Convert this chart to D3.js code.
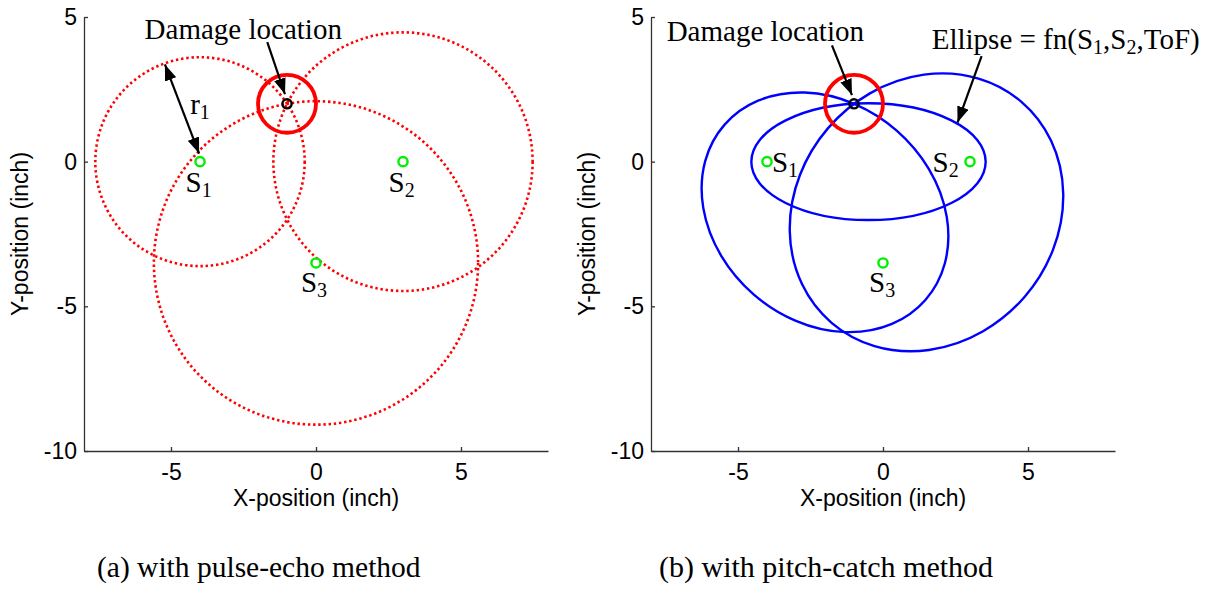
<!DOCTYPE html>
<html><head><meta charset="utf-8">
<script src="https://cdn.jsdelivr.net/npm/d3@7"></script>
<style>body{margin:0;background:#fff} svg{display:block}</style>
</head><body>
<svg id="chart" width="1220" height="590"></svg>
<script>
// ---- data ----
const sensorIds = ["1", "2", "3"];
const sensorX = [-4, 3, 0];
const sensorY = [0, 0, -3.5];
const damageX = -1;
const damageY = 2;
const echoRadius = [3.61, 4.47, 5.59];      // pulse-echo circles (inch)
const pairFirst = [0, 0, 1];                 // pitch-catch sensor pairs
const pairSecond = [1, 2, 2];
const pathLength = [8.08, 9.20, 10.06];      // actuator→damage→sensor distance (inch)
const damageZoneRadius = 1;
const xTicks = [-5, 0, 5];
const yTicks = [5, 0, -5, -10];
const xDomain = [-8, 8];
const yDomain = [-10, 5];
const captions = ["(a) with pulse-echo method", "(b) with pitch-catch method"];
const xTitle = "X-position (inch)";
const yTitle = "Y-position (inch)";

const svg = d3.select("#chart");
const SERIF = "'Liberation Serif','Times New Roman',serif";
const SANS = "'Liberation Sans',Arial,Helvetica,sans-serif";

const defs = svg.append("defs");
defs.append("marker").attr("id", "ah")
  .attr("viewBox", "0 0 16 12").attr("refX", 16).attr("refY", 6)
  .attr("markerWidth", 16).attr("markerHeight", 12)
  .attr("markerUnits", "userSpaceOnUse").attr("orient", "auto-start-reverse")
  .append("path").attr("d", "M0,0L16,6L0,12Z").attr("fill", "#000");

function makePanel(px0, px1, caption, captionX, captionSize) {
  const x = d3.scaleLinear().domain(xDomain).range([px0, px1]);
  const y = d3.scaleLinear().domain(yDomain).range([451, 17]);
  const g = svg.append("g");
  const kx = x(1) - x(0), ky = y(0) - y(1);

  const ax = g.append("g").attr("transform", `translate(0,${y(yDomain[0])})`)
    .call(d3.axisBottom(x).tickValues(xTicks).tickSizeInner(-4).tickSizeOuter(0).tickPadding(13));
  const ay = g.append("g").attr("transform", `translate(${x(xDomain[0])},0)`)
    .call(d3.axisLeft(y).tickValues(yTicks).tickSizeInner(-4).tickSizeOuter(0).tickPadding(7));
  [ax, ay].forEach(a => {
    a.selectAll("path.domain").attr("stroke", "#333").attr("stroke-width", 1.3);
    a.selectAll(".tick line").attr("stroke", "#333").attr("stroke-width", 1.3);
    a.selectAll(".tick text").attr("font-family", SANS).attr("font-size", 23).attr("fill", "#000")
      .text(d => d < 0 ? "-" + Math.abs(d) : String(d));
  });

  g.append("text").attr("x", x(0)).attr("y", 506).attr("text-anchor", "middle")
    .attr("font-family", SANS).attr("font-size", 23).text(xTitle);
  g.append("text").attr("transform", `translate(${x(xDomain[0]) - 56},${y(-2.5)}) rotate(-90)`)
    .attr("text-anchor", "middle").attr("font-family", SANS).attr("font-size", 23).text(yTitle);
  g.append("text").attr("x", captionX).attr("y", 577)
    .attr("font-family", SERIF).attr("font-size", captionSize).text(caption);
  return { g, x, y, kx, ky };
}

function label(p, dx, dy, main, sub) {
  const t = p.g.append("text").attr("x", p.x(dx)).attr("y", p.y(dy))
    .attr("font-family", SERIF).attr("font-size", 29).attr("fill", "#000");
  t.append("tspan").text(main);
  if (sub) t.append("tspan").attr("font-size", 20).attr("dy", 5).text(sub);
  return t;
}

function arrow(p, x1, y1, x2, y2, both) {
  const l = p.g.append("line")
    .attr("x1", p.x(x1)).attr("y1", p.y(y1)).attr("x2", p.x(x2)).attr("y2", p.y(y2))
    .attr("stroke", "#000").attr("stroke-width", 2.2).attr("marker-end", "url(#ah)");
  if (both) l.attr("marker-start", "url(#ah)");
}

function sensorsAndDamage(p) {
  p.g.append("ellipse").attr("cx", p.x(damageX)).attr("cy", p.y(damageY))
    .attr("rx", damageZoneRadius * p.kx).attr("ry", damageZoneRadius * p.ky)
    .attr("fill", "none").attr("stroke", "#ff0000").attr("stroke-width", 3.8);
  p.g.selectAll("circle.sensor").data(sensorIds).join("circle").attr("class", "sensor")
    .attr("cx", (d, i) => p.x(sensorX[i])).attr("cy", (d, i) => p.y(sensorY[i])).attr("r", 4.6)
    .attr("fill", "none").attr("stroke", "#00ee00").attr("stroke-width", 2.4);
  p.g.append("circle").attr("cx", p.x(damageX)).attr("cy", p.y(damageY)).attr("r", 4.6)
    .attr("fill", "none").attr("stroke", "#000").attr("stroke-width", 2.4);
}

// ---- (a) pulse-echo ----
const A = makePanel(84, 548, captions[0], 97, 29.5);
A.g.selectAll("ellipse.echo").data(echoRadius).join("ellipse").attr("class", "echo")
  .attr("cx", (d, i) => A.x(sensorX[i])).attr("cy", (d, i) => A.y(sensorY[i]))
  .attr("rx", d => d * A.kx).attr("ry", d => d * A.ky)
  .attr("fill", "none").attr("stroke", "#ff0000").attr("stroke-width", 2.6)
  .attr("stroke-dasharray", "2.4,2.8");
sensorsAndDamage(A);
arrow(A, -1.68, 4.13, -1.07, 2.33, false);
arrow(A, -4.03, 0.28, -5.21, 3.36, true);
label(A, -5.91, 4.23, "Damage location");
label(A, -4.34, 1.66, "r", "1");
label(A, -4.5, -1.04, "S", "1");
label(A, 2.5, -1.04, "S", "2");
label(A, -0.52, -4.49, "S", "3");

// ---- (b) pitch-catch ----
const B = makePanel(651, 1115, captions[1], 659, 30);
B.g.selectAll("ellipse.pc").data(pathLength).join("ellipse").attr("class", "pc")
  .each(function (d, i) {
    const ax = sensorX[pairFirst[i]], ay = sensorY[pairFirst[i]];
    const bx = sensorX[pairSecond[i]], by = sensorY[pairSecond[i]];
    const c = Math.hypot(bx - ax, by - ay) / 2, a = d / 2, b = Math.sqrt(a * a - c * c);
    const ang = Math.atan2(by - ay, bx - ax) * 180 / Math.PI;
    d3.select(this)
      .attr("transform", `translate(${B.x((ax + bx) / 2)},${B.y((ay + by) / 2)}) scale(${B.kx},${-B.ky}) rotate(${ang})`)
      .attr("rx", a).attr("ry", b);
  })
  .attr("fill", "none").attr("stroke", "#0000ff").attr("stroke-width", 2.4)
  .attr("vector-effect", "non-scaling-stroke");
sensorsAndDamage(B);
arrow(B, -1.76, 4.02, -1.07, 2.3, false);
arrow(B, 3.40, 3.65, 2.57, 1.35, false);
label(B, -7.46, 4.16, "Damage location");
const el = B.g.append("text").attr("x", B.x(1.68)).attr("y", B.y(3.88))
  .attr("font-family", SERIF).attr("font-size", 29);
el.append("tspan").text("Ellipse = fn(S");
el.append("tspan").attr("font-size", 20).attr("dy", 5).text("1");
el.append("tspan").attr("dy", -5).text(",S");
el.append("tspan").attr("font-size", 20).attr("dy", 5).text("2");
el.append("tspan").attr("dy", -5).text(",ToF)");
label(B, -3.83, -0.34, "S", "1");
label(B, 1.71, -0.34, "S", "2");
label(B, -0.48, -4.49, "S", "3");
</script>
</body></html>
